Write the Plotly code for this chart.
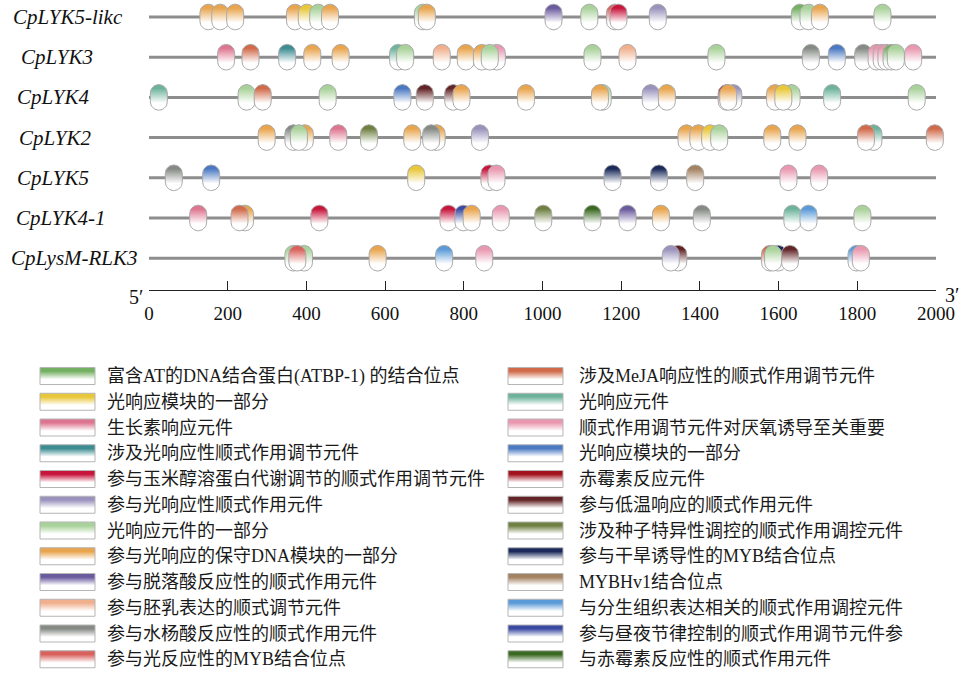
import numpy as np
import plotly.graph_objects as go

# ---------------- data ----------------
genes = ["CpLYK5-likc", "CpLYK3", "CpLYK4", "CpLYK2", "CpLYK5", "CpLYK4-1", "CpLysM-RLK3"]

cat_labels = [
    "富含AT的DNA结合蛋白(ATBP-1) 的结合位点",
    "光响应模块的一部分",
    "生长素响应元件",
    "涉及光响应性顺式作用调节元件",
    "参与玉米醇溶蛋白代谢调节的顺式作用调节元件",
    "参与光响应性顺式作用元件",
    "光响应元件的一部分",
    "参与光响应的保守DNA模块的一部分",
    "参与脱落酸反应性的顺式作用元件",
    "参与胚乳表达的顺式调节元件",
    "参与水杨酸反应性的顺式作用元件",
    "参与光反应性的MYB结合位点",
    "涉及MeJA响应性的顺式作用调节元件",
    "光响应元件",
    "顺式作用调节元件对厌氧诱导至关重要",
    "光响应模块的一部分",
    "赤霉素反应元件",
    "参与低温响应的顺式作用元件",
    "涉及种子特异性调控的顺式作用调控元件",
    "参与干旱诱导性的MYB结合位点",
    "MYBHv1结合位点",
    "与分生组织表达相关的顺式作用调控元件",
    "参与昼夜节律控制的顺式作用调节元件参",
    "与赤霉素反应性的顺式作用元件",
]

cat_colors = [
    "#74b062", "#e8c73a", "#de7590", "#3c8c92", "#c8153c", "#9a92bc",
    "#a9d29a", "#e9a54e", "#6a5a9e", "#f0b08e", "#858a84", "#d9615c",
    "#d06a4a", "#6db39c", "#e998b0", "#4a79c2", "#a3121c", "#622426",
    "#6f8042", "#1b2a5a", "#a38262", "#5a9ad8", "#3a4aa2", "#3a6a22",
]

pos_lyk5likc = [151, 181, 219, 371, 401, 430, 460, 696, 706, 1028, 1119, 1184, 1193, 1293, 1654, 1676, 1705, 1864]
cat_lyk5likc = [7, 7, 7, 7, 1, 6, 7, 6, 7, 8, 6, 11, 4, 5, 0, 6, 7, 6]

pos_lyk3 = [196, 258, 351, 415, 487, 633, 651, 744, 805, 846, 884, 866, 1127, 1216, 1442, 1682, 1748, 1815, 1849, 1862, 1874, 1887, 1898, 1942]
cat_lyk3 = [2, 12, 3, 7, 7, 13, 6, 9, 7, 7, 14, 6, 6, 9, 6, 10, 15, 10, 14, 14, 14, 0, 6, 14]

pos_lyk4 = [25, 248, 289, 454, 644, 701, 773, 794, 958, 1153, 1146, 1275, 1316, 1468, 1485, 1472, 1591, 1633, 1612, 1736, 1951]
cat_lyk4 = [13, 6, 12, 6, 15, 17, 17, 7, 7, 6, 7, 5, 7, 16, 5, 7, 7, 6, 1, 13, 6]

pos_lyk2 = [299, 367, 396, 381, 481, 559, 669, 731, 717, 841, 1366, 1396, 1426, 1449, 1584, 1648, 1841, 1822, 1997]
cat_lyk2 = [7, 10, 7, 6, 2, 18, 7, 7, 10, 5, 7, 7, 1, 6, 7, 7, 13, 12, 12]

pos_lyk5 = [63, 158, 679, 865, 883, 1178, 1296, 1388, 1625, 1703]
cat_lyk5 = [10, 15, 1, 4, 14, 19, 19, 20, 14, 14]

pos_lyk4_1 = [125, 244, 230, 433, 761, 799, 820, 894, 1002, 1127, 1216, 1301, 1405, 1635, 1676, 1813]
cat_lyk4_1 = [2, 7, 12, 4, 4, 22, 7, 14, 18, 23, 8, 7, 10, 13, 21, 6]

pos_lysm = [367, 394, 377, 581, 750, 852, 1345, 1326, 1578, 1599, 1629, 1586, 1798, 1809]
cat_lysm = [6, 6, 11, 7, 21, 14, 17, 5, 12, 19, 17, 6, 21, 14]

tick_vals = [0, 200, 400, 600, 800, 1000, 1200, 1400, 1600, 1800, 2000]
seq_len = 2000

gene_pos = [pos_lyk5likc, pos_lyk3, pos_lyk4, pos_lyk2, pos_lyk5, pos_lyk4_1, pos_lysm]
gene_cat = [cat_lyk5likc, cat_lyk3, cat_lyk4, cat_lyk2, cat_lyk5, cat_lyk4_1, cat_lysm]

# ---------------- layout geometry ----------------
W, H = 963, 677
X0PX, X1PX = 149, 936
pxu = (X1PX - X0PX) / seq_len
ROW_TOP = 17.0
ROW_STEP = 40.2
AXIS_PX = 290.0
y_top = ROW_TOP / ROW_STEP
y_bot = -(AXIS_PX - ROW_TOP) / ROW_STEP
main_dom = [1 - AXIS_PX / H, 1.0]
label_left_px = [11, 19, 15, 17, 15, 14, 9]

SERIF = "Liberation Serif, Times New Roman, serif"
MIXED = "Liberation Serif, Noto Sans CJK SC, serif"

fig = go.Figure()

# gene lines
for i, g in enumerate(genes):
    fig.add_trace(go.Scatter(x=[0, seq_len], y=[-i, -i], mode="lines",
                             line=dict(color="#8e8e8e", width=3),
                             hoverinfo="skip", showlegend=False))

a = 8.5 / pxu
r = 8.5 / ROW_STEP
hh = 12.8 / ROW_STEP
t = np.linspace(0, np.pi, 24)


def pill(xc, yc):
    tc = yc + (hh - r)
    bc = yc - (hh - r)
    xs = np.concatenate([xc + a * np.cos(t), xc - a * np.cos(t), [xc + a]])
    ys = np.concatenate([tc + r * np.sin(t), bc - r * np.sin(t), [tc]])
    return xs, ys


for i in range(len(genes)):
    for p, c in zip(gene_pos[i], gene_cat[i]):
        xs, ys = pill(p, -i)
        col = cat_colors[c]
        fig.add_trace(go.Scatter(
            x=xs, y=ys, mode="lines", fill="toself",
            line=dict(color="#a9a9a9", width=1),
            fillgradient=dict(type="vertical",
                              colorscale=[[0, "#ffffff"], [0.28, "#ffffff"], [0.85, col], [1, col]],
                              start=-i - hh, stop=-i + hh),
            hoverinfo="skip", showlegend=False))

# scale axis carrier
fig.add_trace(go.Scatter(x=[0, seq_len], y=[0, 0], mode="lines", line=dict(width=0),
                         xaxis="x2", yaxis="y2", hoverinfo="skip", showlegend=False))

# legend swatches
leg_y0 = 376.0
leg_dy = 25.75
cols_x = [(40, 95, 105), (508, 563, 577)]
annotations = []
for k, lab in enumerate(cat_labels):
    colx = cols_x[k // 12]
    yc = leg_y0 + leg_dy * (k % 12)
    x0, x1, tx = colx
    col = cat_colors[k]
    fig.add_trace(go.Scatter(
        x=[x0, x1, x1, x0, x0], y=[yc - 8.5, yc - 8.5, yc + 8.5, yc + 8.5, yc - 8.5],
        mode="lines", fill="toself", line=dict(color="#b5b5b5", width=1),
        fillgradient=dict(type="vertical",
                          colorscale=[[0, "#ffffff"], [0.3, "#ffffff"], [0.78, col], [1, col]],
                          start=yc + 8.5, stop=yc - 8.5),
        xaxis="x3", yaxis="y3", hoverinfo="skip", showlegend=False))
    annotations.append(dict(x=tx, y=yc, xref="x3", yref="y3", text=lab, showarrow=False,
                            xanchor="left", yanchor="middle",
                            font=dict(family=MIXED, size=18, color="#1a1a1a")))

for i, g in enumerate(genes):
    annotations.append(dict(x=label_left_px[i] / W, y=-i, xref="paper", yref="y", text="<i>%s</i>" % g,
                            showarrow=False, xanchor="left", yanchor="middle",
                            font=dict(family=SERIF, size=21, color="#111111")))

annotations.append(dict(x=136 / W, y=1 - 297 / H, xref="paper", yref="paper", text="5′",
                        showarrow=False, xanchor="center", yanchor="middle",
                        font=dict(family=SERIF, size=20, color="#111111")))
annotations.append(dict(x=952 / W, y=1 - 295 / H, xref="paper", yref="paper", text="3′",
                        showarrow=False, xanchor="center", yanchor="middle",
                        font=dict(family=SERIF, size=20, color="#111111")))

hidden = dict(visible=False, fixedrange=True, automargin=False)

fig.update_layout(
    template="none",
    width=W, height=H, autosize=False,
    margin=dict(l=0, r=0, t=0, b=0, pad=0, autoexpand=False),
    paper_bgcolor="white", plot_bgcolor="rgba(0,0,0,0)",
    showlegend=False,
    xaxis=dict(domain=[0, 1], range=[-X0PX / pxu, (W - X0PX) / pxu], **hidden),
    yaxis=dict(domain=main_dom, range=[y_bot, y_top], **hidden),
    xaxis2=dict(domain=[X0PX / W, X1PX / W], range=[0, seq_len], anchor="y2",
                showline=True, linecolor="#222222", linewidth=1.2,
                ticks="inside", ticklen=9, tickwidth=1.2, tickcolor="#222222",
                tickvals=tick_vals, ticktext=[str(v) for v in tick_vals],
                showgrid=False, zeroline=False, ticklabelstandoff=6, automargin=False,
                tickfont=dict(family=SERIF, size=19, color="#111111"), fixedrange=True),
    yaxis2=dict(domain=[1 - AXIS_PX / H, 1 - AXIS_PX / H + 0.02], range=[0, 1],
                anchor="x2", **hidden),
    xaxis3=dict(domain=[0, 1], range=[0, W], anchor="y3", **hidden),
    yaxis3=dict(domain=[0, 0.5], range=[H, H / 2], anchor="x3", **hidden),
    annotations=annotations,
)

post = (
    "document.documentElement.style.margin='0';"
    "document.documentElement.style.overflow='hidden';"
    "document.body.style.margin='0';"
    "document.body.style.overflow='hidden';"
)

fig.write_html("out.html",
               config=dict(responsive=False, displayModeBar=False),
               post_script=post)
